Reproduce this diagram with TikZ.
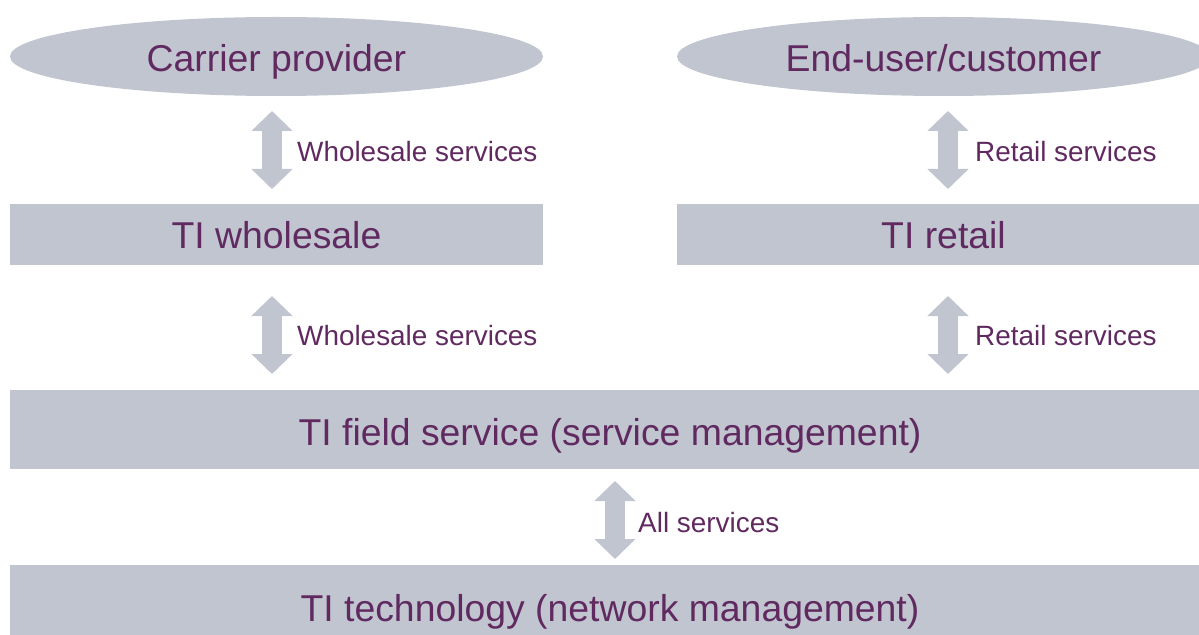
\documentclass[tikz,border=0pt]{standalone}
\usepackage{fontspec}
\setmainfont{Liberation Sans}
\usetikzlibrary{shapes.geometric,arrows.meta}
\definecolor{boxfill}{RGB}{192,197,208}
\definecolor{txt}{RGB}{96,42,96}
\tikzset{
  ovalbox/.style={ellipse, fill=boxfill, draw=none, inner sep=0pt, text=txt, text height=31bp, text depth=0pt, font=\fontsize{37.5}{40}\selectfont},
  bandbox/.style={rectangle, fill=boxfill, draw=none, inner sep=0pt, text=txt, text height=29bp, text depth=0pt, font=\fontsize{37.5}{40}\selectfont},
  blockarrow/.style={draw=boxfill, line width=20bp, {Triangle[length=20bp,width=40bp]}-{Triangle[length=20bp,width=40bp]}},
  lbl/.style={anchor=base west, inner sep=0pt, text=txt, font=\fontsize{28}{30}\selectfont}
}
\begin{document}
\begin{tikzpicture}[x=1bp,y=-1bp]
\useasboundingbox (0,0) rectangle (1199,635);
\node[ovalbox, minimum width=533bp, minimum height=79bp] (carrier) at (276.5,56.5) {Carrier provider};
\node[ovalbox, minimum width=533bp, minimum height=79bp] (enduser) at (943.5,56.5) {End-user/customer};
\node[bandbox, minimum width=533bp, minimum height=61bp] (wholesale) at (276.5,234.5) {TI wholesale};
\node[bandbox, minimum width=533bp, minimum height=61bp] (retail) at (943.5,234.5) {TI retail};
\node[bandbox, text height=31bp, minimum width=1200bp, minimum height=79bp] (field) at (610,429.5) {TI field service (service management)};
\node[bandbox, text height=31bp, minimum width=1200bp, minimum height=82bp] (tech) at (610,606) {TI technology (network management)};
% arrow end points
\coordinate (a1t) at (272,111); \coordinate (a1b) at (272,189);
\coordinate (a2t) at (272,296); \coordinate (a2b) at (272,374);
\coordinate (a3t) at (948,111); \coordinate (a3b) at (948,189);
\coordinate (a4t) at (948,296); \coordinate (a4b) at (948,374);
\coordinate (a5t) at (615,481); \coordinate (a5b) at (615,559);
\draw[blockarrow] (a1t) -- (a1b);
\draw[blockarrow] (a2t) -- (a2b);
\draw[blockarrow] (a3t) -- (a3b);
\draw[blockarrow] (a4t) -- (a4b);
\draw[blockarrow] (a5t) -- (a5b);
\node[lbl] (l1) at (297,162) {Wholesale services};
\node[lbl] (l2) at (297,346) {Wholesale services};
\node[lbl] (l3) at (975,162) {Retail services};
\node[lbl] (l4) at (975,346) {Retail services};
\node[lbl] (l5) at (638,532) {All services};
\end{tikzpicture}
\end{document}
